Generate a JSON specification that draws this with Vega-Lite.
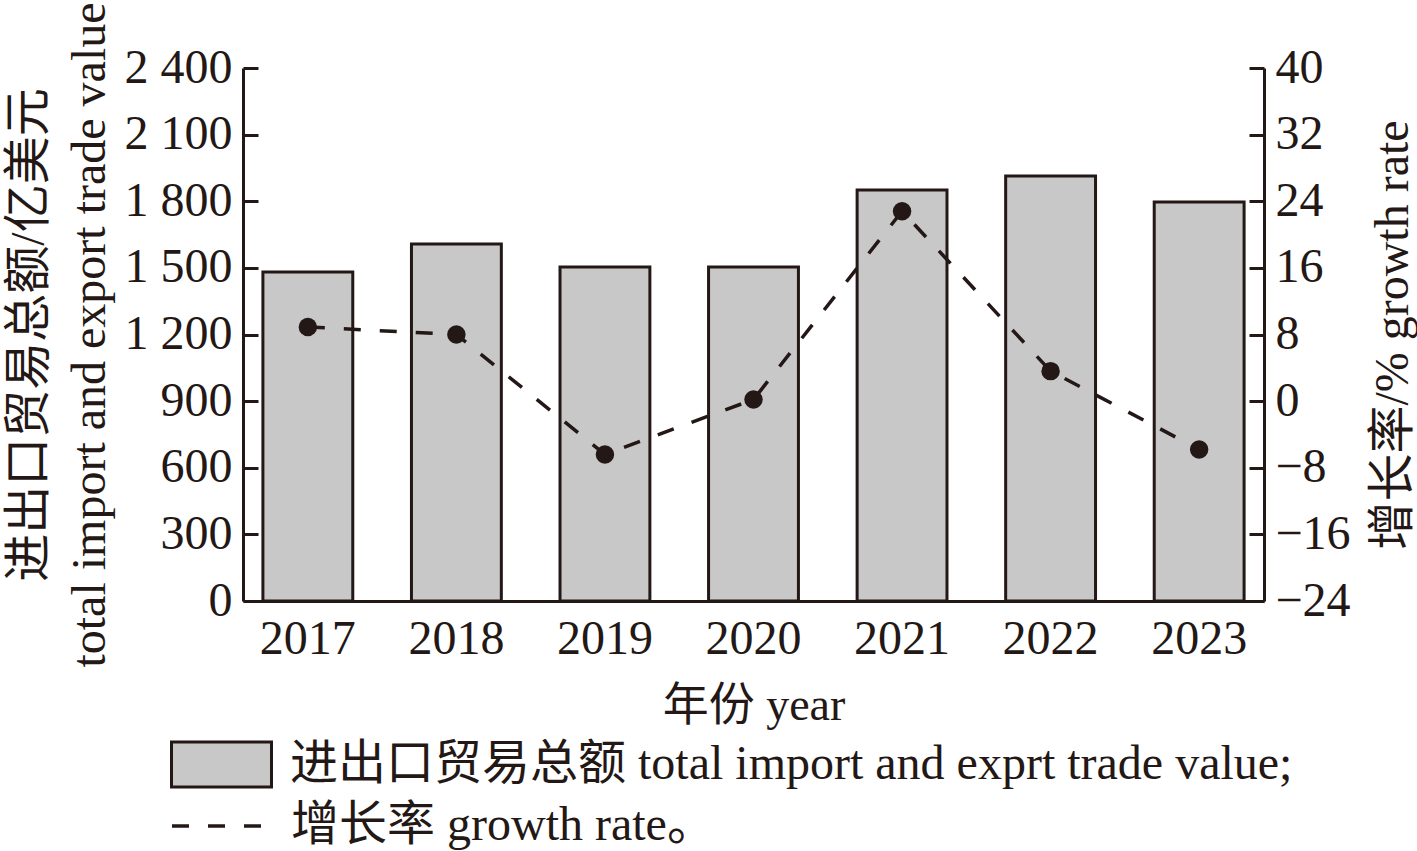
{
  "$schema": "https://vega.github.io/schema/vega-lite/v6.json",
  "width": 1021,
  "height": 533,
  "autosize": {"type": "none"},
  "padding": {"left": 243, "top": 68, "right": 153, "bottom": 250},
  "background": "white",
  "config": {
    "view": {"stroke": null},
    "font": "Liberation Serif, Noto Sans CJK SC",
    "axis": {
      "labelFont": "Liberation Serif, Noto Sans CJK SC",
      "titleFont": "Liberation Serif, Noto Sans CJK SC",
      "labelFontSize": 48,
      "titleFontSize": 48,
      "labelColor": "#231815",
      "titleColor": "#231815",
      "domainColor": "#231815",
      "tickColor": "#231815",
      "domainWidth": 3,
      "tickWidth": 3,
      "grid": false,
      "titleFontWeight": "normal",
      "labelFlush": false,
      "labelOverlap": false
    },
    "legend": {
      "labelFont": "Liberation Serif, Noto Sans CJK SC",
      "labelFontSize": 48,
      "labelColor": "#231815",
      "padding": 0
    }
  },
  "data": {
    "values": [
      {"year": "2017", "value": 1481, "growth": 8.9},
      {"year": "2018", "value": 1607, "growth": 8.0},
      {"year": "2019", "value": 1504, "growth": -6.4},
      {"year": "2020", "value": 1504, "growth": 0.2},
      {"year": "2021", "value": 1851, "growth": 22.8},
      {"year": "2022", "value": 1914, "growth": 3.6},
      {"year": "2023", "value": 1797, "growth": -5.8}
    ]
  },
  "encoding": {
    "x": {
      "field": "year",
      "type": "ordinal",
      "scale": {"paddingInner": 0.395, "paddingOuter": 0.134},
      "axis": {
        "labelAngle": 0,
        "ticks": false,
        "labelPadding": 14,
        "title": "年份 year",
        "titleFontSize": 46,
        "titlePadding": 20
      }
    }
  },
  "layer": [
    {
      "mark": {"type": "bar", "stroke": "#231815", "strokeWidth": 3},
      "encoding": {
        "y": {
          "field": "value",
          "type": "quantitative",
          "scale": {"domain": [0, 2400], "nice": false},
          "axis": {
            "orient": "left",
            "values": [0, 300, 600, 900, 1200, 1500, 1800, 2100, 2400],
            "labelExpr": "replace(format(datum.value, ','), ',', ' ')",
            "tickSize": -15,
            "labelPadding": 26,
            "title": ["进出口贸易总额/亿美元", "total import and export trade value"],
            "titleLineHeight": 61,
            "titlePadding": 10
          }
        },
        "fill": {
          "datum": "进出口贸易总额 total import and exprt trade value;",
          "scale": {"range": ["#c8c8c8"]},
          "legend": {
            "title": null,
            "orient": "none",
            "legendX": -73,
            "legendY": 645,
            "symbolType": "M-1,-0.45L1,-0.45L1,0.45L-1,0.45Z",
            "symbolSize": 10000,
            "symbolStrokeColor": "#231815",
            "symbolStrokeWidth": 3,
            "symbolFillColor": "#c8c8c8",
            "labelOffset": 17,
            "labelLimit": 2000
          }
        }
      }
    },
    {
      "encoding": {
        "y": {
          "field": "growth",
          "type": "quantitative",
          "scale": {"domain": [-24, 40], "nice": false, "zero": false},
          "axis": {
            "orient": "right",
            "values": [-24, -16, -8, 0, 8, 16, 24, 32, 40],
            "tickSize": -15,
            "labelPadding": 26,
            "title": "增长率/% growth rate",
            "titleAngle": -90,
            "titleBaseline": "top",
            "titlePadding": 19
          }
        }
      },
      "layer": [
        {
          "mark": {"type": "line", "stroke": "#231815", "strokeWidth": 3.5},
          "encoding": {
            "strokeDash": {
              "datum": "增长率 growth rate。",
              "scale": {"range": [[17, 19]]},
              "legend": {
                "title": null,
                "orient": "none",
                "legendX": -73,
                "legendY": 711,
                "symbolType": "stroke",
                "symbolSize": 8100,
                "symbolStrokeColor": "#231815",
                "symbolStrokeWidth": 3.5,
                "labelOffset": 27,
                "labelLimit": 2000
              }
            }
          }
        },
        {
          "mark": {"type": "circle", "color": "#231815", "opacity": 1, "size": 340}
        }
      ]
    }
  ],
  "resolve": {"scale": {"y": "independent"}}
}
